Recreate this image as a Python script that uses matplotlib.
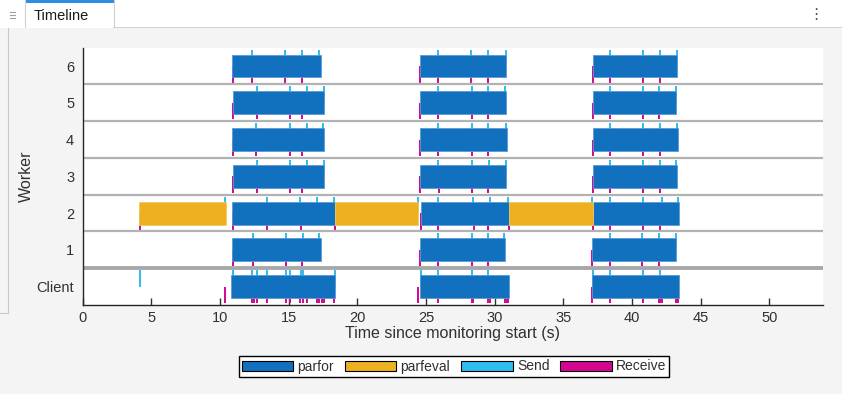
import matplotlib
matplotlib.use("Agg")
import matplotlib.pyplot as plt
from matplotlib.patches import Patch, Rectangle
from matplotlib.lines import Line2D

plt.rcParams['font.family'] = ['Liberation Sans', 'DejaVu Sans']

# ---------------- data ----------------
row_labels = ['Client', '1', '2', '3', '4', '5', '6']

# parfor intervals (start, end) per row, seconds
parfor_client = [(10.82, 18.39), (24.53, 31.06), (37.11, 43.42)]
parfor_w1 = [(10.89, 17.35), (24.58, 30.77), (37.11, 43.23)]
parfor_w2 = [(10.89, 18.39), (24.63, 31.04), (37.16, 43.42)]
parfor_w3 = [(10.92, 17.61), (24.58, 30.84), (37.16, 43.28)]
parfor_w4 = [(10.89, 17.59), (24.58, 30.89), (37.16, 43.32)]
parfor_w5 = [(10.92, 17.61), (24.58, 30.80), (37.16, 43.23)]
parfor_w6 = [(10.89, 17.35), (24.58, 30.84), (37.16, 43.28)]

# parfeval intervals (only worker 2)
parfeval_w2 = [(4.14, 10.45), (18.39, 24.42), (31.04, 37.14)]

# Send events per row
send_client = [4.19, 10.94, 12.37, 12.69, 13.41, 14.80, 15.11, 15.89, 16.02, 18.37,
               24.63, 25.89, 28.37, 29.53,
               37.16, 38.37, 40.80, 42.06]
send_w1 = [12.39, 14.82, 16.04, 17.25, 25.84, 28.32, 29.49, 30.70, 38.37, 40.75, 41.96, 43.18]
send_w2 = [10.38, 13.41, 15.84, 17.05, 18.32, 24.39, 25.89, 28.42, 29.68, 30.99,
           37.11, 38.42, 40.80, 42.16, 43.37]
send_w3 = [12.69, 15.11, 16.33, 17.59, 25.89, 28.37, 29.58, 30.80, 38.37, 40.80, 42.01, 43.23]
send_w4 = [12.64, 15.11, 16.33, 17.54, 25.84, 28.32, 29.53, 30.84, 38.37, 40.80, 42.06, 43.28]
send_w5 = [12.69, 15.11, 16.33, 17.59, 25.84, 28.32, 29.49, 30.75, 38.37, 40.80, 41.96, 43.18]
send_w6 = [12.35, 14.77, 15.99, 17.25, 25.84, 28.27, 29.53, 30.80, 38.37, 40.80, 42.06, 43.28]

# Receive events per row
recv_client = [10.35, 12.35, 12.45, 12.69, 13.41, 14.80, 15.11, 15.84, 16.04, 16.33,
               17.05, 17.25, 17.40, 17.59, 18.32,
               24.39, 25.89, 28.32, 28.42, 29.49, 29.68, 30.75, 30.84, 30.99,
               37.11, 38.42, 40.80, 41.96, 42.06, 42.16, 43.18, 43.28, 43.37]
recv_w1 = [10.94, 12.39, 14.82, 15.99, 24.58, 25.84, 28.32, 29.49, 37.11, 38.37, 40.75, 41.96]
recv_w2 = [4.19, 10.94, 13.41, 15.89, 18.37, 24.63, 25.89, 28.47, 29.53, 31.04,
           37.16, 38.42, 40.80, 42.06]
recv_w3 = [10.94, 12.69, 15.11, 15.99, 24.58, 25.94, 28.37, 29.53, 37.16, 38.37, 40.80, 42.01]
recv_w4 = [10.94, 12.64, 15.11, 15.99, 24.58, 25.84, 28.32, 29.53, 37.16, 38.37, 40.80, 42.01]
recv_w5 = [10.94, 12.69, 15.11, 15.99, 24.58, 25.84, 28.32, 29.49, 37.16, 38.37, 40.80, 41.96]
recv_w6 = [10.94, 12.35, 14.77, 15.99, 24.58, 25.84, 28.27, 29.53, 37.16, 38.37, 40.80, 42.06]

parfor_rows = [parfor_client, parfor_w1, parfor_w2, parfor_w3, parfor_w4, parfor_w5, parfor_w6]
parfeval_rows = [[], [], parfeval_w2, [], [], [], []]
send_rows = [send_client, send_w1, send_w2, send_w3, send_w4, send_w5, send_w6]
recv_rows = [recv_client, recv_w1, recv_w2, recv_w3, recv_w4, recv_w5, recv_w6]

x_ticks = [0, 5, 10, 15, 20, 25, 30, 35, 40, 45, 50]

# ---------------- style ----------------
C_PARFOR = '#1271bf'
C_PARFEVAL = '#edb120'
C_SEND = '#2dbdef'
C_RECV = '#d4068f'
BG = '#f4f4f4'
TXT = '#303030'

W, H = 842, 394
fig = plt.figure(figsize=(W / 100, H / 100), dpi=100, facecolor=BG)

# top tab strip
strip = fig.add_axes([0, 1 - 28 / H, 1, 28 / H])
strip.set_xlim(0, W)
strip.set_ylim(28, 0)
strip.axis('off')
strip.add_patch(Rectangle((0, 0), W, 28, facecolor='white', edgecolor='none'))
strip.plot([114, W], [27.5, 27.5], color='#c8c8c8', lw=1.2)
strip.plot([25, 25], [0, 28], color='#d0d0d0', lw=0.8)
strip.plot([114, 114], [0, 28], color='#d0d0d0', lw=0.8)
strip.add_patch(Rectangle((25, 0), 89, 2.5, facecolor='#2d8ce4', edgecolor='none'))
strip.text(34, 16.5, 'Timeline', fontsize=10.5, va='center', ha='left', color='#1a1a1a')
for yy in (12, 15, 18):
    strip.plot([9.5, 14.5], [yy, yy], color='#a0a0a0', lw=0.8)
strip.text(816, 14, '\u22ee', fontsize=11, va='center', ha='center', color='#444444',
           family=['DejaVu Sans'])

# left border of panel
fig.add_artist(Line2D([7.5 / W, 7.5 / W], [(H - 313) / H, 1 - 28 / H],
                      transform=fig.transFigure, color='#c8c8c8', lw=0.8))
fig.add_artist(Line2D([0, 7.5 / W], [(H - 313) / H, (H - 313) / H],
                      transform=fig.transFigure, color='#c8c8c8', lw=0.8))

ax = fig.add_axes([82.5 / W, (H - 305) / H, (823 - 82.5) / W, (305 - 47.7) / H])
ax.set_facecolor('white')
ax.set_xlim(0, 53.9)
ax.set_ylim(-0.5, 6.5)

bar_h = 0.62
for i in range(len(row_labels)):
    # event ticks (drawn beneath bars)
    ax.vlines(send_rows[i], i, i + 0.45, color=C_SEND, lw=1.4, zorder=2)
    ax.vlines(recv_rows[i], i - 0.45, i, color=C_RECV, lw=1.4, zorder=2)
    for (s, e) in parfor_rows[i]:
        ax.barh(i, e - s, left=s, height=bar_h, color=C_PARFOR, edgecolor='#5a9ad6',
                lw=0.6, zorder=3)
    for (s, e) in parfeval_rows[i]:
        ax.barh(i, e - s, left=s, height=bar_h, color=C_PARFEVAL, edgecolor='#f2c860',
                lw=0.6, zorder=3)

# row separators
for b in [1.5, 2.5, 3.5, 4.5, 5.5]:
    ax.axhline(b, color='#b2b2b2', lw=1.6, zorder=4)
ax.axhline(0.5, color='#a8a8a8', lw=2.8, zorder=4)

ax.set_yticks(range(len(row_labels)))
ax.set_yticklabels(row_labels)
ax.set_xticks(x_ticks)
ax.tick_params(axis='y', length=0, labelsize=10.5, colors=TXT, pad=6)
ax.tick_params(axis='x', direction='in', length=5, width=1, labelsize=10.5,
               colors=TXT, pad=4)
for sp in ['top', 'right']:
    ax.spines[sp].set_visible(False)
for sp in ['left', 'bottom']:
    ax.spines[sp].set_color('#262626')
    ax.spines[sp].set_linewidth(1.0)
    ax.spines[sp].set_zorder(6)

ax.set_xlabel('Time since monitoring start (s)', fontsize=11.5, color=TXT, labelpad=1)
ax.set_ylabel('Worker', fontsize=11.5, color=TXT, labelpad=2)

handles = [Patch(facecolor=C_PARFOR, edgecolor='black', lw=0.8, label='parfor'),
           Patch(facecolor=C_PARFEVAL, edgecolor='black', lw=0.8, label='parfeval'),
           Patch(facecolor=C_SEND, edgecolor='black', lw=0.8, label='Send'),
           Patch(facecolor=C_RECV, edgecolor='black', lw=0.8, label='Receive')]
leg = fig.legend(handles=handles, loc='center', bbox_to_anchor=(454 / W, 1 - 366.5 / H),
                 ncol=4, fontsize=10, frameon=True, fancybox=False, edgecolor='black',
                 facecolor='white', framealpha=1, handlelength=3.7, handleheight=0.7,
                 handletextpad=0.3, columnspacing=0.8, borderpad=0.22, borderaxespad=0)
leg.get_frame().set_linewidth(1.0)
for t in leg.get_texts():
    t.set_color(TXT)

fig.savefig('out.png', dpi=100, facecolor=BG)
